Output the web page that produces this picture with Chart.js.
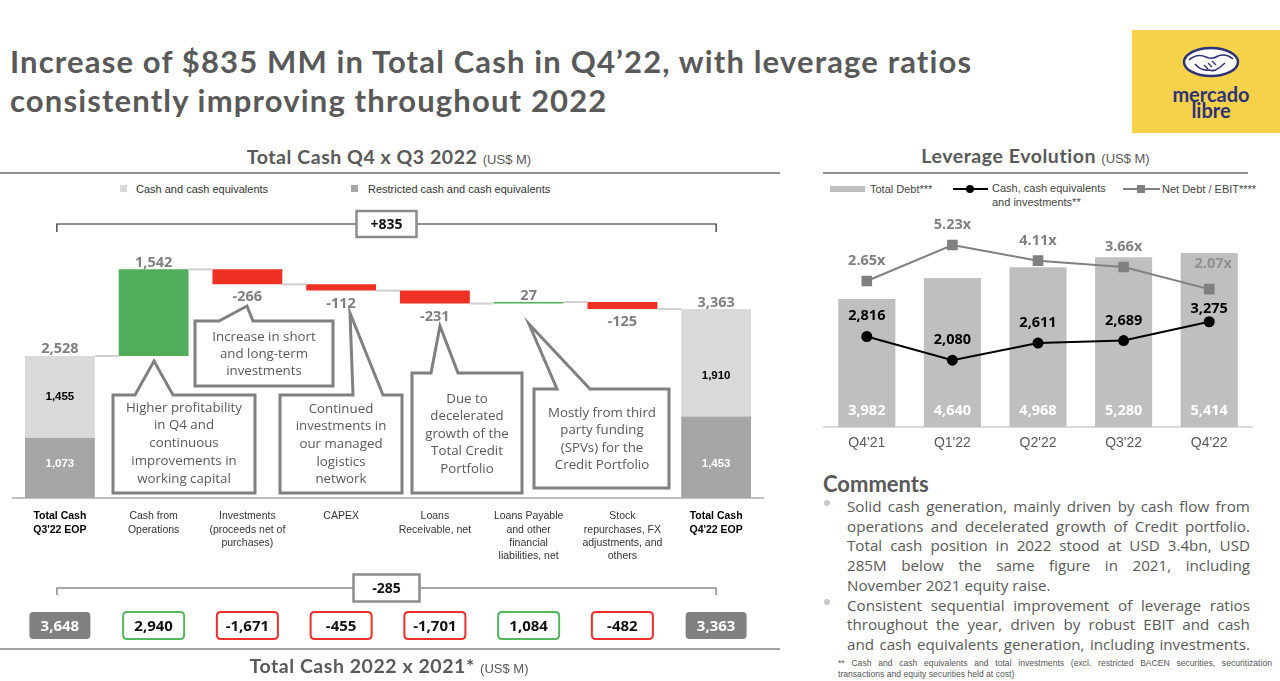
<!DOCTYPE html>
<html><head><meta charset="utf-8">
<script src="https://cdn.jsdelivr.net/npm/chart.js@4.4.0/dist/chart.umd.min.js"></script>
<style>
html,body{margin:0;padding:0;background:#fff;}
#page{position:relative;width:1280px;height:681px;overflow:hidden;background:#fff;font-family:'Liberation Sans',Arial,sans-serif;color:#333;}
.abs{position:absolute;}
.title{left:10px;top:42px;font-family:Lato,sans-serif;font-weight:700;font-size:31px;letter-spacing:1.15px;line-height:39px;color:#595959;white-space:nowrap;}
.h2{font-family:Lato,sans-serif;font-weight:700;font-size:19.5px;letter-spacing:0.55px;line-height:24px;color:#595959;white-space:nowrap;text-align:center;}
.h2 span{font-family:'Liberation Sans',Arial,sans-serif;font-weight:400;font-size:13px;letter-spacing:0;}
.rule{height:2px;background:#939393;}
.leg{font-size:11px;line-height:14px;color:#333;white-space:nowrap;}
.cline{left:847px;width:403px;height:19.7px;line-height:19.7px;font-family:'Open Sans',sans-serif;font-size:15.2px;color:#595959;white-space:nowrap;}
.just{display:flex;justify-content:space-between;}
.bullet{width:6px;height:6px;border-radius:3px;background:#c8c8c8;}
.fn{left:838px;width:434px;font-size:8.6px;line-height:11px;color:#555;white-space:nowrap;}
</style></head>
<body><div id="page">

<div class="abs title">Increase of $835 MM in Total Cash in Q4’22, with leverage ratios<br>consistently improving throughout 2022</div>

<svg class="abs" style="left:1132px;top:30px" width="148" height="103">
  <rect width="148" height="103" fill="#F6D24A"/>
  <ellipse cx="79" cy="32" rx="27" ry="14" fill="#fff" stroke="#2D3277" stroke-width="2.5"/>
  <path d="M57 30 q8 -7 17 -3 q6 3 12 -1 q8 -3 15 3" fill="none" stroke="#2D3277" stroke-width="1.6"/>
  <path d="M63 34 q6 7 14 6 q5 2 10 -2 l6 -5" fill="none" stroke="#2D3277" stroke-width="1.6"/>
  <path d="M72 35 l4 4 M76 33 l4 4 M80 31 l4 4" fill="none" stroke="#2D3277" stroke-width="1.3"/>
  <text x="79" y="72" text-anchor="middle" font-family="Lato" font-weight="700" font-size="20" fill="#2D3277">mercado</text>
  <text x="79" y="88" text-anchor="middle" font-family="Lato" font-weight="700" font-size="20" fill="#2D3277">libre</text>
</svg>

<div class="abs h2" style="left:0;width:778px;top:145px">Total Cash Q4 x Q3 2022 <span>(US$ M)</span></div>
<div class="abs rule" style="left:0;width:780px;top:172px"></div>

<div class="abs" style="left:120px;top:185px;width:7px;height:7px;background:#d9d9d9"></div>
<div class="abs leg" style="left:136px;top:182px">Cash and cash equivalents</div>
<div class="abs" style="left:351px;top:185px;width:7px;height:7px;background:#a6a6a6"></div>
<div class="abs leg" style="left:368px;top:182px">Restricted cash and cash equivalents</div>

<canvas id="wf" class="abs" width="780" height="450" style="left:0;top:200px"></canvas>

<div class="abs rule" style="left:0;width:780px;top:648px;background:#a0a0a0"></div>
<div class="abs h2" style="left:0;width:778px;top:654px">Total Cash 2022 x 2021* <span>(US$ M)</span></div>

<div class="abs h2" style="left:823px;width:425px;top:144px">Leverage Evolution <span>(US$ M)</span></div>
<div class="abs rule" style="left:823px;width:425px;top:172px"></div>

<div class="abs" style="left:830px;top:186px;width:35px;height:6px;background:#bfbfbf"></div>
<div class="abs leg" style="left:870px;top:182px;color:#444">Total Debt***</div>
<div class="abs" style="left:953px;top:188px;width:35px;height:2px;background:#000"></div>
<div class="abs" style="left:966px;top:185px;width:8px;height:8px;border-radius:4px;background:#000"></div>
<div class="abs leg" style="left:992px;top:182px;line-height:13.5px;color:#444">Cash, cash equivalents<br>and investments**</div>
<div class="abs" style="left:1123px;top:188px;width:37px;height:2px;background:#808080"></div>
<div class="abs" style="left:1137px;top:185px;width:8px;height:8px;background:#808080"></div>
<div class="abs leg" style="left:1162px;top:182px;color:#444">Net Debt / EBIT****</div>

<canvas id="lev" class="abs" width="460" height="260" style="left:810px;top:200px"></canvas>

<div class="abs" style="left:823px;top:470px;font-family:Lato,sans-serif;font-weight:700;font-size:22px;line-height:28px;color:#595959">Comments</div>
<div id="comments"></div>

<script>
// ---------- DATA ----------
const wfCategories = [
  ["Total Cash","Q3'22 EOP"],
  ["Cash from","Operations"],
  ["Investments","(proceeds net of","purchases)"],
  ["CAPEX"],
  ["Loans","Receivable, net"],
  ["Loans Payable","and other","financial","liabilities, net"],
  ["Stock","repurchases, FX","adjustments, and","others"],
  ["Total Cash","Q4'22 EOP"]
];
const startRestricted = 1073;
const startCash = 1455;
const q4Changes = [1542, -266, -112, -231, 27, -125];
const endRestricted = 1453;
const endCash = 1910;

const yearStart = 3648;
const yearChanges = [2940, -1671, -455, -1701, 1084, -482];
const yearEnd = 3363;

const levQuarters = ["Q4'21","Q1'22","Q2'22","Q3'22","Q4'22"];
const totalDebt = [3982, 4640, 4968, 5280, 5414];
const cashInvest = [2816, 2080, 2611, 2689, 3275];
const netDebtEbit = [2.65, 5.23, 4.11, 3.66, 2.07];

const commentLines = [
  ["Solid cash generation, mainly driven by cash flow from", true, true],
  ["operations and decelerated growth of Credit portfolio.", true, false],
  ["Total cash position in 2022 stood at USD 3.4bn, USD", true, false],
  ["285M below the same figure in 2021, including", true, false],
  ["November 2021 equity raise.", false, false],
  ["Consistent sequential improvement of leverage ratios", true, true],
  ["throughout the year, driven by robust EBIT and cash", true, false],
  ["and cash equivalents generation, including investments.", true, false]
];
const footLines = [
  ["** Cash and cash equivalents and total investments (excl.  restricted BACEN securities, securitization", true],
  ["transactions and equity securities held at cost)", false]
];

// ---------- COMMENTS ----------
(function(){
  const host = document.getElementById('comments');
  commentLines.forEach((l,i)=>{
    const top = 497 + i*19.7;
    const d = document.createElement('div');
    d.className = 'abs cline' + (l[1] ? ' just' : '');
    d.style.top = top + 'px';
    if (l[1]) { l[0].split(' ').forEach(w=>{ const s=document.createElement('span'); s.textContent=w; d.appendChild(s); }); }
    else d.textContent = l[0];
    host.appendChild(d);
    if (l[2]) { const b=document.createElement('div'); b.className='abs bullet'; b.style.left='824px'; b.style.top=(top+3)+'px'; host.appendChild(b); }
  });
  footLines.forEach((l,i)=>{
    const d=document.createElement('div');
    d.className='abs fn'+(l[1]?' just':'');
    d.style.top=(658+i*11)+'px';
    if (l[1]) { l[0].split(/ +/).forEach(w=>{ const s=document.createElement('span'); s.textContent=w; d.appendChild(s); }); }
    else d.textContent=l[0];
    host.appendChild(d);
  });
})();

const fmt = v => (v<0?'-':'') + Math.abs(v).toLocaleString('en-US');
const fmtSigned = v => (v>0?'+':'') + fmt(v);

// ---------- WATERFALL ----------
const startTotal = startRestricted + startCash;
const endTotal = endRestricted + endCash;
const levels = [startTotal];
q4Changes.forEach(c => levels.push(levels[levels.length-1] + c));
levels.push(endTotal);

const nCat = wfCategories.length;
const restrictedData = wfCategories.map((_,i)=> i===0 ? [0,startRestricted] : (i===nCat-1 ? [0,endRestricted] : null));
const cashData = wfCategories.map((_,i)=> i===0 ? [startRestricted,startTotal] : (i===nCat-1 ? [endRestricted,endTotal] : null));
const changeData = wfCategories.map((_,i)=> (i>0 && i<nCat-1) ? [levels[i-1], levels[i]] : null);
const changeColors = wfCategories.map((_,i)=> (i>0 && i<nCat-1 && q4Changes[i-1] >= 0) ? '#4FAD5B' : '#EE3124');

const BAR_PCT = 0.745;
const isTotalIdx = i => i===0 || i===nCat-1;

const callouts = [
  {box:[113,195,255,293], tip:[154,161], base:[135,173], tx:184, ty:208, lh:17.7,
   lines:["Higher profitability","in Q4 and","continuous","improvements in","working capital"]},
  {box:[195,121,333,186], tip:[247,106], base:[219,253], tx:264, ty:137, lh:17,
   lines:["Increase in short","and long-term","investments"]},
  {box:[280,195,402,293], tip:[350,113], base:[353,383], tx:341, ty:209, lh:17.6,
   lines:["Continued","investments in","our managed","logistics","network"]},
  {box:[412,173,522,293], tip:[440,126], base:[431,458], tx:467, ty:199, lh:17.5,
   lines:["Due to","decelerated","growth of the","Total Credit","Portfolio"]},
  {box:[534,189,669,288], tip:[529,124], base:[557,590], tx:602, ty:213, lh:17.4,
   lines:["Mostly from third","party funding","(SPVs) for the","Credit Portfolio"]}
];

function roundRect(ctx,x,y,w,h,r){
  ctx.beginPath();
  ctx.moveTo(x+r,y); ctx.lineTo(x+w-r,y); ctx.quadraticCurveTo(x+w,y,x+w,y+r);
  ctx.lineTo(x+w,y+h-r); ctx.quadraticCurveTo(x+w,y+h,x+w-r,y+h);
  ctx.lineTo(x+r,y+h); ctx.quadraticCurveTo(x,y+h,x,y+h-r);
  ctx.lineTo(x,y+r); ctx.quadraticCurveTo(x,y,x+r,y); ctx.closePath();
}

function bracket(ctx, x0, x1, yLine, tickDown, label, lineColor, lineW, boxW, boxH){
  ctx.save();
  ctx.strokeStyle=lineColor; ctx.lineWidth=lineW;
  ctx.beginPath();
  ctx.moveTo(x0, yLine+tickDown); ctx.lineTo(x0, yLine); ctx.lineTo(x1, yLine); ctx.lineTo(x1, yLine+tickDown);
  ctx.stroke();
  const cx=(x0+x1)/2;
  ctx.fillStyle='#fff'; ctx.strokeStyle='#8c8c8c'; ctx.lineWidth=2.5;
  ctx.fillRect(cx-boxW/2, yLine-boxH/2, boxW, boxH);
  ctx.strokeRect(cx-boxW/2, yLine-boxH/2, boxW, boxH);
  ctx.fillStyle='#111'; ctx.font='bold 14px "Open Sans"'; ctx.textAlign='center'; ctx.textBaseline='middle';
  ctx.fillText(label, cx, yLine+1);
  ctx.restore();
}

const wfPlugin = {
  id:'wfExtras',
  afterDatasetsDraw(chart){
    const {ctx, scales:{x,y}} = chart;
    const step = x.getPixelForValue(1) - x.getPixelForValue(0);
    const half = step*BAR_PCT/2;
    ctx.save();
    ctx.strokeStyle='#cfcfcf'; ctx.lineWidth=2;
    for (let i=0;i<nCat-1;i++){
      const yy = y.getPixelForValue(levels[i]);
      ctx.beginPath(); ctx.moveTo(x.getPixelForValue(i)+half, yy); ctx.lineTo(x.getPixelForValue(i+1)-half, yy); ctx.stroke();
    }
    ctx.font='bold 14.5px "Open Sans"'; ctx.textAlign='center'; ctx.textBaseline='alphabetic'; ctx.fillStyle='#7f7f7f';
    ctx.fillText(fmt(startTotal), x.getPixelForValue(0), y.getPixelForValue(startTotal)-2.5);
    q4Changes.forEach((c,k)=>{
      const i=k+1, xp=x.getPixelForValue(i);
      if (c>=0) ctx.fillText(fmt(c), xp, y.getPixelForValue(levels[i])-2.5);
      else ctx.fillText(fmt(c), xp, y.getPixelForValue(levels[i])+17);
    });
    ctx.fillText(fmt(endTotal), x.getPixelForValue(nCat-1), y.getPixelForValue(endTotal)-2.5);
    ctx.font='bold 11.5px "Liberation Sans"'; ctx.textBaseline='middle';
    [[0,startRestricted,startCash],[nCat-1,endRestricted,endCash]].forEach(([i,r,c])=>{
      const xp=x.getPixelForValue(i);
      const yTop=y.getPixelForValue(r+c), yMid=y.getPixelForValue(r), yBase=y.getPixelForValue(0);
      ctx.fillStyle='#000'; ctx.fillText(fmt(c), xp, yMid - Math.min(41, (yMid-yTop)/2) );
      ctx.fillStyle='#fff'; ctx.fillText(fmt(r), xp, yBase-34);
    });
    callouts.forEach(co=>{
      const [bx0,by0,bx1,by1]=co.box;
      ctx.beginPath();
      ctx.moveTo(bx0,by0); ctx.lineTo(co.base[0],by0); ctx.lineTo(co.tip[0],co.tip[1]); ctx.lineTo(co.base[1],by0);
      ctx.lineTo(bx1,by0); ctx.lineTo(bx1,by1); ctx.lineTo(bx0,by1); ctx.closePath();
      ctx.fillStyle='#fff'; ctx.fill();
      ctx.lineWidth=3; ctx.strokeStyle='#808080'; ctx.lineJoin='miter'; ctx.stroke();
      ctx.fillStyle='#595959'; ctx.font='13.3px "Open Sans"'; ctx.textAlign='center'; ctx.textBaseline='middle';
      co.lines.forEach((t,j)=>ctx.fillText(t, co.tx, co.ty + j*co.lh));
    });
    ctx.restore();
  },
  afterDraw(chart){
    const {ctx, scales:{x}} = chart;
    const x0=x.getPixelForValue(0), x1=x.getPixelForValue(nCat-1);
    bracket(ctx, x0-3, x1, 24, 8, fmtSigned(endTotal-startTotal), '#222', 1.2, 60, 26);
    bracket(ctx, x0-3, x1, 388, 7, fmtSigned(yearEnd-yearStart), '#8c8c8c', 1.5, 66, 27);
    const vals=[yearStart, ...yearChanges, yearEnd];
    vals.forEach((v,i)=>{
      const cx=x.getPixelForValue(i), w=61, h=27, top=412;
      ctx.save();
      roundRect(ctx, cx-w/2, top, w, h, 4);
      if (isTotalIdx(i)) { ctx.fillStyle='#808080'; ctx.fill(); }
      else { ctx.fillStyle='#fff'; ctx.fill(); ctx.lineWidth=2; ctx.strokeStyle = v>=0 ? '#55B55F' : '#EC2F2A'; ctx.stroke(); }
      ctx.fillStyle = isTotalIdx(i) ? '#fff' : '#111';
      ctx.font='bold 15px "Open Sans"'; ctx.textAlign='center'; ctx.textBaseline='middle';
      ctx.fillText(fmt(v), cx, top+h/2+1);
      ctx.restore();
    });
  }
};

new Chart(document.getElementById('wf'), {
  type:'bar',
  data:{ labels: wfCategories, datasets:[
    {label:'Restricted cash and cash equivalents', data: restrictedData, backgroundColor:'#a6a6a6', grouped:false, barPercentage:BAR_PCT, categoryPercentage:1},
    {label:'Cash and cash equivalents', data: cashData, backgroundColor:'#d9d9d9', grouped:false, barPercentage:BAR_PCT, categoryPercentage:1},
    {label:'Change', data: changeData, backgroundColor: changeColors, grouped:false, barPercentage:BAR_PCT, categoryPercentage:1}
  ]},
  options:{
    responsive:false, animation:false, devicePixelRatio:1, events:[],
    layout:{padding:{left:13,right:17,top:0,bottom:90}},
    plugins:{legend:{display:false}, tooltip:{enabled:false}},
    scales:{
      x:{
        grid:{display:false, drawTicks:false},
        border:{display:true, color:'#bfbfbf', width:2},
        ticks:{
          padding:12, autoSkip:false, maxRotation:0, minRotation:0,
          font:(c)=>({family:'Liberation Sans', size:10.5, lineHeight:1.25, weight: isTotalIdx(c.index)?'bold':'normal'}),
          color:(c)=> isTotalIdx(c.index) ? '#000' : '#333'
        },
        afterFit:(s)=>{ s.height = 62; }
      },
      y:{display:false, min:0, max:5305}
    }
  },
  plugins:[wfPlugin]
});

// ---------- LEVERAGE ----------
const cashDy = [-16,-16,-16,-16,-9];
const netDy = [-16,-16,-16,-16,-21];
const netDx = [0,0,0,0,4];
const levPlugin = {
  id:'levLabels',
  afterDatasetsDraw(chart){
    const ctx=chart.ctx;
    const mBar=chart.getDatasetMeta(0), mCash=chart.getDatasetMeta(1), mNet=chart.getDatasetMeta(2);
    ctx.save();
    ctx.font='bold 14.5px "Open Sans"'; ctx.textAlign='center'; ctx.textBaseline='alphabetic';
    mBar.data.forEach((el,i)=>{ ctx.fillStyle='#fff'; ctx.fillText(fmt(totalDebt[i]), el.x, el.base-12); });
    mCash.data.forEach((el,i)=>{ ctx.fillStyle='#000'; ctx.fillText(fmt(cashInvest[i]), el.x, el.y+cashDy[i]); });
    mNet.data.forEach((el,i)=>{
      ctx.fillStyle = i===netDebtEbit.length-1 ? '#909090' : '#808080';
      ctx.fillText(netDebtEbit[i].toFixed(2)+'x', el.x+netDx[i], el.y+netDy[i]);
    });
    ctx.restore();
  }
};

new Chart(document.getElementById('lev'), {
  type:'bar',
  data:{ labels: levQuarters, datasets:[
    {type:'bar', label:'Total Debt***', data: totalDebt, backgroundColor:'#bfbfbf', barPercentage:0.667, categoryPercentage:1, yAxisID:'y', order:3},
    {type:'line', label:'Cash, cash equivalents and investments**', data: cashInvest, yAxisID:'y', borderColor:'#000', borderWidth:2,
     pointRadius:5.5, pointBackgroundColor:'#000', pointBorderWidth:0, tension:0, order:1},
    {type:'line', label:'Net Debt / EBIT****', data: netDebtEbit, yAxisID:'y2', borderColor:'#808080', borderWidth:2,
     pointStyle:'rect', pointRadius:7.5, pointBackgroundColor:'#808080', pointBorderWidth:0, tension:0, order:2}
  ]},
  options:{
    responsive:false, animation:false, devicePixelRatio:1, events:[],
    layout:{padding:{left:14,right:18,top:10,bottom:0}},
    plugins:{legend:{display:false}, tooltip:{enabled:false}},
    scales:{
      x:{
        grid:{display:false, drawTicks:false},
        border:{display:true, color:'#d9d9d9', width:2},
        ticks:{padding:8, color:'#595959', font:{family:'Liberation Sans', size:14}},
        afterFit:(s)=>{ s.height = 33; }
      },
      y:{display:false, min:0, max:6752},
      y2:{display:false, min:-7.81, max:7.74}
    }
  },
  plugins:[levPlugin]
});
</script>
</div></body></html>
